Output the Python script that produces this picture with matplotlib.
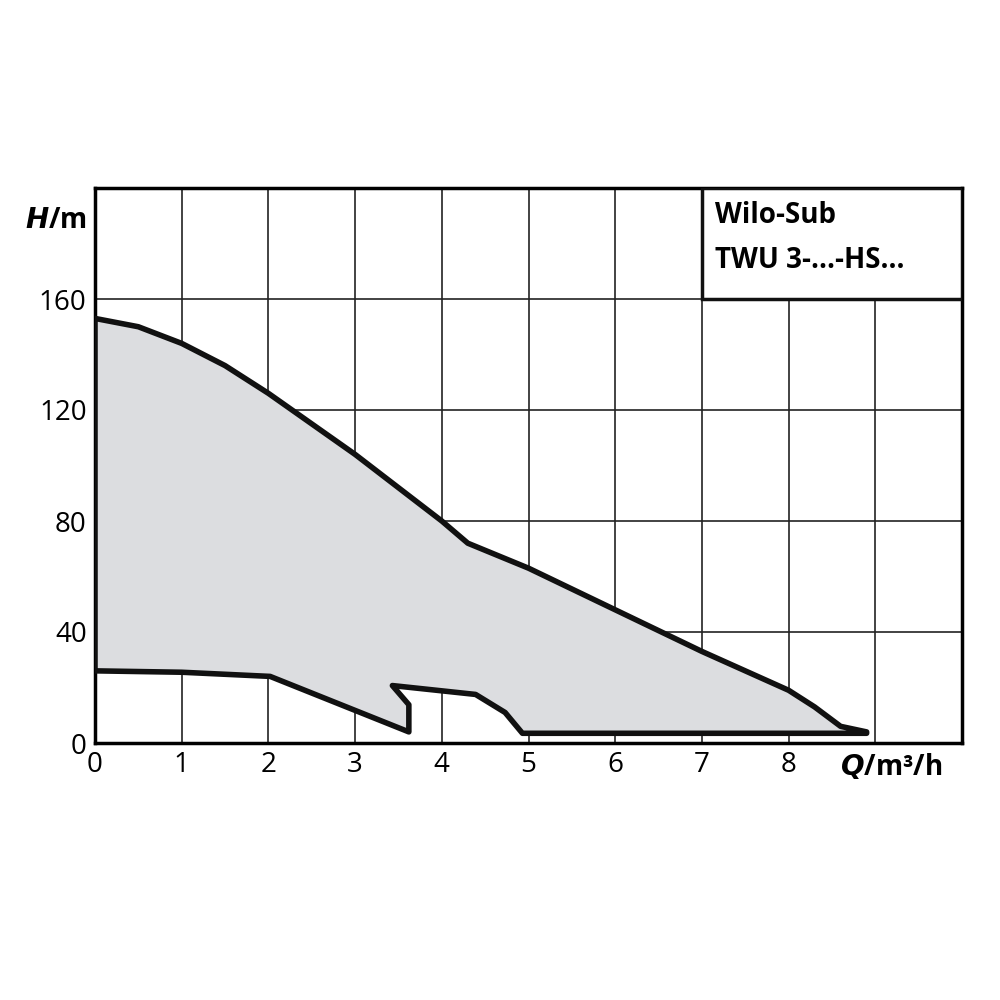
import matplotlib
matplotlib.use("Agg")
import matplotlib.pyplot as plt
from matplotlib.patches import Polygon

upper_q = [0, 0.5, 1, 1.5, 2, 2.5, 3, 3.5, 4, 4.3, 5, 6, 7, 8, 8.3, 8.6, 8.9]
upper_h = [153, 150, 144, 136, 126, 115, 104, 92, 80, 72, 63, 48, 33, 19, 13, 6, 4]
lower_q = [8.9, 4.93, 4.73, 4.39, 3.43, 3.62, 3.62, 2.02, 1.0, 0]
lower_h = [3.5, 3.5, 11, 17.5, 20.7, 13.8, 4, 24, 25.5, 26]

plt.rcParams['font.family'] = ['Open Sans', 'DejaVu Sans']
fig = plt.figure(figsize=(10, 10), dpi=100)
ax = fig.add_axes([0.095, 0.257, 0.867, 0.555])
ax.set_xlim(0, 10)
ax.set_ylim(0, 200)
ax.set_xticks(range(0, 10))
ax.set_yticks([0, 40, 80, 120, 160])
ax.set_xticks(range(0, 11), minor=False)
ax.set_xticklabels([str(i) for i in range(9)] + ['', ''])
ax.grid(True, color='#222222', lw=1.2)
ax.tick_params(length=0, labelsize=20, pad=6)
for s in ax.spines.values():
    s.set_linewidth(2.5)

pts = list(zip(upper_q, upper_h)) + list(zip(lower_q, lower_h))
ax.add_patch(Polygon(pts, closed=True, facecolor='#dcdde0', edgecolor='#111111',
                     lw=4, joinstyle='round', zorder=3))

ax.text(7.0, 200, '', zorder=5)
box = plt.Rectangle((7.0, 160), 3.0, 40, facecolor='white', edgecolor='#111111', lw=2.5, zorder=4)
ax.add_patch(box)
ax.text(7.15, 190, 'Wilo-Sub', fontsize=20, fontweight='bold', va='center', zorder=5)
ax.text(7.15, 174, 'TWU 3-...-HS...', fontsize=20, fontweight='bold', va='center', zorder=5)

fig.text(0.025, 0.78, r'$\bfit{H}$/m', fontsize=20, fontweight='bold', va='center')
fig.text(0.84, 0.233, r'$\bfit{Q}$/m³/h', fontsize=20, fontweight='bold', va='center')
fig.savefig('out.png', dpi=100, facecolor='white')
